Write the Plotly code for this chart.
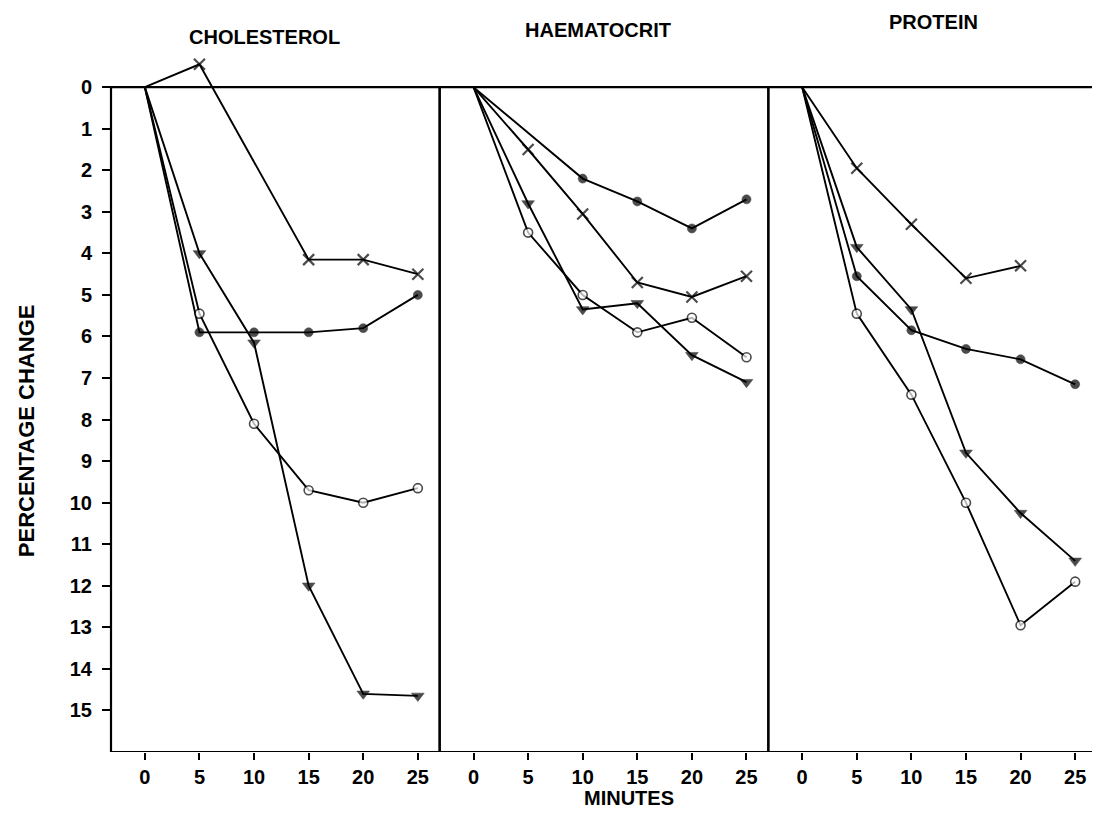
import plotly.graph_objects as go

# ---- data (percentage change) ----
times = [0, 5, 10, 15, 20, 25]
panel_titles = ["CHOLESTEROL", "HAEMATOCRIT", "PROTEIN"]
x_tick_vals = [0, 5, 10, 15, 20, 25]
y_tick_vals = list(range(0, 16))

chol_cross = [0, -0.55, None, 4.15, 4.15, 4.5]
chol_tri = [0, 4.0, 6.15, 12.0, 14.6, 14.65]
chol_dot = [0, 5.9, 5.9, 5.9, 5.8, 5.0]
chol_ring = [0, 5.45, 8.1, 9.7, 10.0, 9.65]

haem_cross = [0, 1.5, 3.05, 4.7, 5.05, 4.55]
haem_tri = [0, 2.8, 5.35, 5.2, 6.45, 7.1]
haem_dot = [0, None, 2.2, 2.75, 3.4, 2.7]
haem_ring = [0, 3.5, 5.0, 5.9, 5.55, 6.5]

prot_cross = [0, 1.95, 3.3, 4.6, 4.3, None]
prot_tri = [0, 3.85, 5.35, 8.8, 10.25, 11.4]
prot_dot = [0, 4.55, 5.85, 6.3, 6.55, 7.15]
prot_ring = [0, 5.45, 7.4, 10.0, 12.95, 11.9]

panels = [
    (chol_cross, chol_tri, chol_dot, chol_ring),
    (haem_cross, haem_tri, haem_dot, haem_ring),
    (prot_cross, prot_tri, prot_dot, prot_ring),
]

FONT = "Liberation Sans, Arial, sans-serif"
BLACK = "#000000"

styles = [
    dict(symbol="x-thin", size=11, color=BLACK, line=dict(width=2.2, color=BLACK)),
    dict(symbol="triangle-down", size=11, color=BLACK, line=dict(width=0.6, color=BLACK)),
    dict(symbol="circle", size=9, color=BLACK, line=dict(width=0.6, color=BLACK)),
    dict(symbol="circle", size=9, color="white", line=dict(width=1.6, color=BLACK)),
]

fig = go.Figure()
for i, series in enumerate(panels):
    xa = "x" if i == 0 else f"x{i + 1}"
    for vals, st in zip(series, styles):
        sizes = [0 if k == 0 else st["size"] for k in range(len(vals))]
        m = dict(st)
        m["size"] = sizes
        fig.add_trace(go.Scatter(
            x=times, y=vals, xaxis=xa, yaxis="y",
            mode="lines+markers", connectgaps=True,
            line=dict(color=BLACK, width=1.9),
            marker=m, cliponaxis=False, hoverinfo="skip",
        ))

tickfont = dict(family=FONT, size=20, color=BLACK, weight="bold")
xcommon = dict(
    range=[-3.1, 27.0], tickvals=x_tick_vals, ticks="outside", ticklen=7,
    tickwidth=2, tickcolor=BLACK, showgrid=False, zeroline=False, showline=False,
    tickfont=tickfont, anchor="y",
)

fig.update_layout(
    width=1092, height=805,
    margin=dict(l=103, r=3, t=21, b=61),
    paper_bgcolor="white", plot_bgcolor="white", showlegend=False,
    xaxis=dict(domain=[0, 1 / 3], **xcommon),
    xaxis2=dict(domain=[1 / 3, 2 / 3], **xcommon),
    xaxis3=dict(domain=[2 / 3, 1], **xcommon),
    yaxis=dict(
        range=[16, -1.4], tickvals=y_tick_vals, ticks="outside", ticklen=8,
        tickwidth=2, tickcolor=BLACK, showgrid=False, zeroline=False,
        showline=False, anchor="x", ticklabelstandoff=6,
        tickfont=tickfont,
    ),
)

for xa in ["x", "x2", "x3"]:
    fig.add_shape(type="rect", xref=f"{xa} domain", yref="y",
                  x0=0, x1=1, y0=0, y1=16,
                  line=dict(color=BLACK, width=2.2), layer="below")

title_pos = [(0.156, 0.989), (0.494, 0.999), (0.834, 1.010)]
for t, (px, py) in zip(panel_titles, title_pos):
    fig.add_annotation(text=t, xref="paper", yref="paper", x=px, y=py,
                       showarrow=False, xanchor="center", yanchor="middle",
                       font=dict(family=FONT, size=20, color=BLACK, weight="bold"))

fig.add_annotation(text="PERCENTAGE CHANGE", xref="paper", yref="paper",
                   x=-0.085, y=0.444, textangle=-90,
                   showarrow=False, xanchor="center", yanchor="middle",
                   font=dict(family=FONT, size=22, color=BLACK, weight="bold"))
fig.add_annotation(text="MINUTES", xref="paper", yref="paper",
                   x=0.525, y=-0.064,
                   showarrow=False, xanchor="center", yanchor="middle",
                   font=dict(family=FONT, size=20, color=BLACK, weight="bold"))

fig.write_html("out.html")
